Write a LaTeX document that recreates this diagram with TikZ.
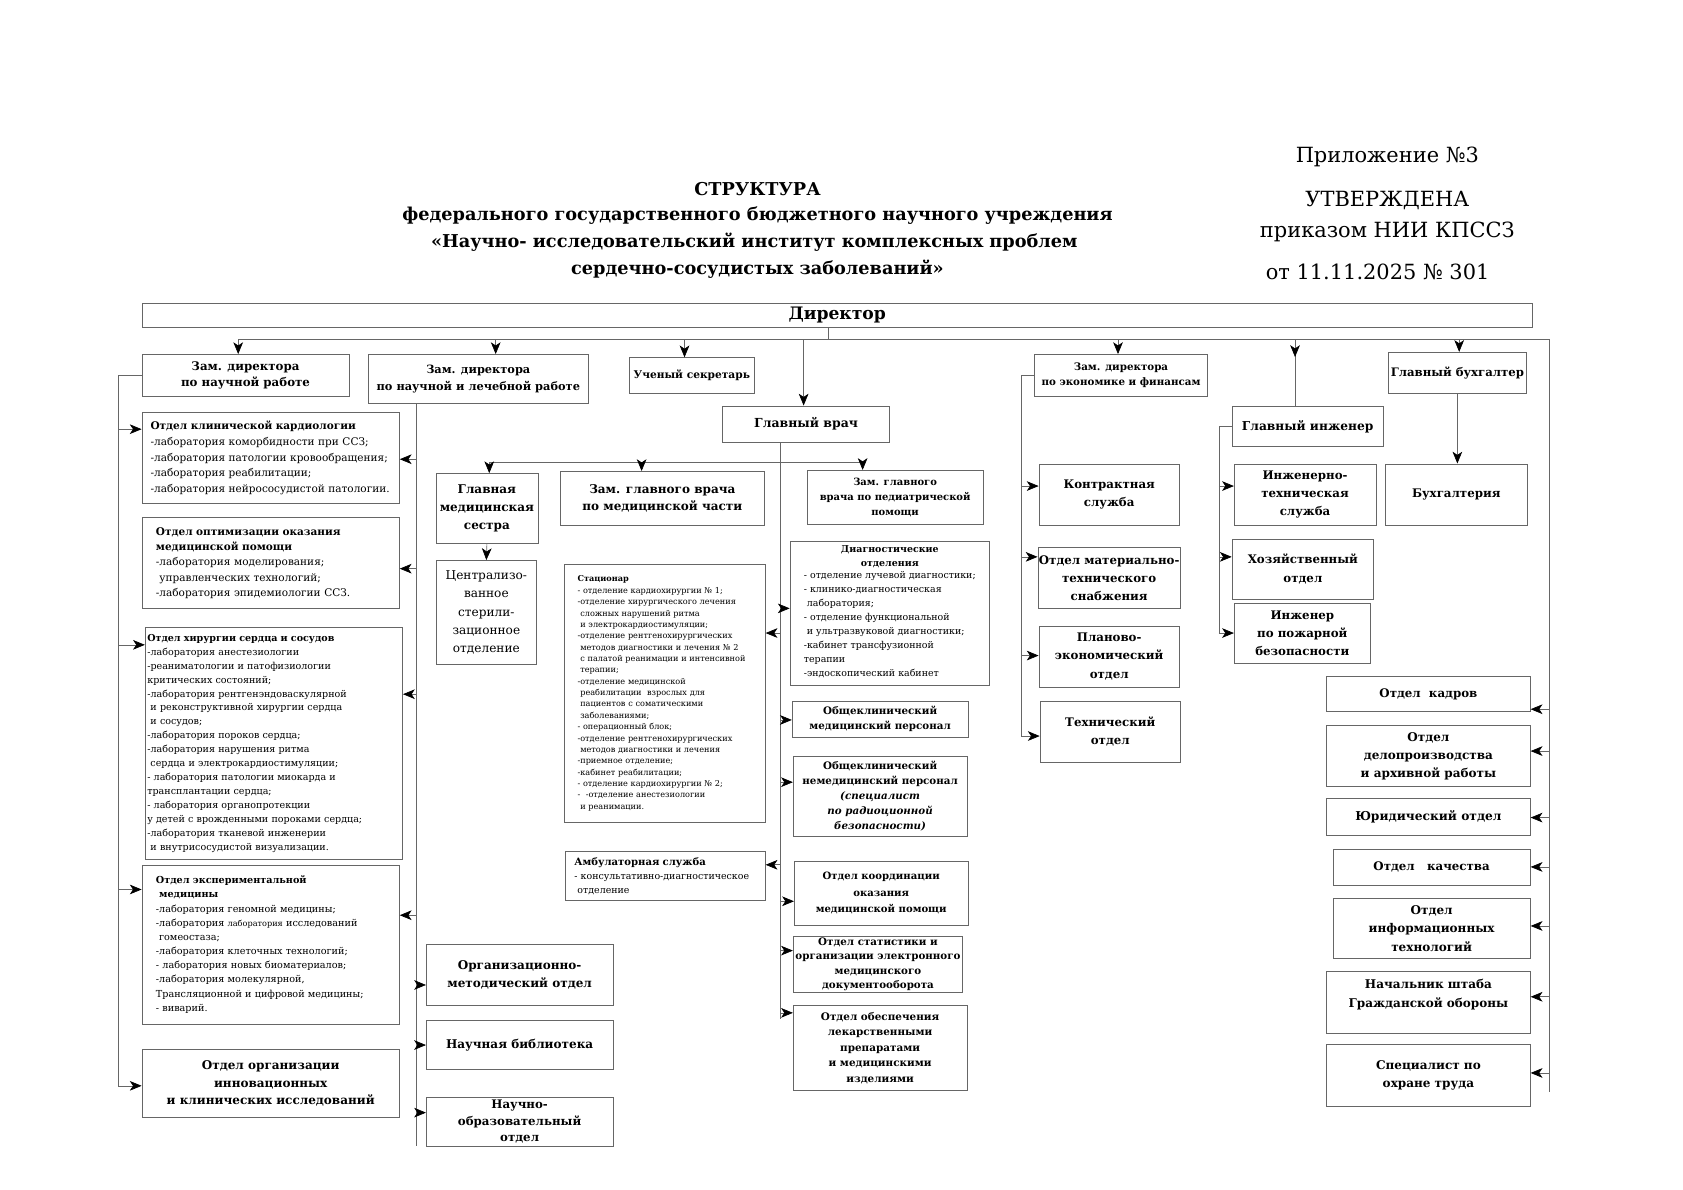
\documentclass[tikz,border=0pt]{standalone}
\usepackage{fontspec}
\setmainfont{DejaVu Serif}
\usetikzlibrary{arrows.meta,decorations.markings}
\newcommand\fs[2]{\fontsize{#1}{#2}\selectfont}
\newcommand\harr[4]{\coordinate (#4) at ([yshift=#3]#2); \draw[arr] (#1 |- #4) -- (#4);}
\begin{document}
\begin{tikzpicture}[x=1pt,y=-1pt,
  box/.style={draw=black!60,line width=0.6pt,inner sep=1pt,align=center,anchor=north west,font=\bfseries\fs{11}{14}},
  lst/.style={box,align=left,inner ysep=2pt},
  ln/.style={draw=black!60,line width=0.6pt},
  arr/.style={ln,-{Stealth[length=11pt,width=9pt,inset=3pt,color=black]}},
  ttl/.style={font=\bfseries\fs{16.5}{20}},
  hdr/.style={font=\fs{19.5}{24}}]
\useasboundingbox (0,0) rectangle (1568.6,1109.1);
% header
\node[hdr] (pr) at (1293,146) {Приложение №3};
\node[hdr] (ut) at (1293,187) {УТВЕРЖДЕНА};
\node[hdr] (pk) at (1293,216) {приказом НИИ КПССЗ};
\node[hdr] (ot) at (1284,253) {от 11.11.2025 № 301};
\node[ttl] (t1) at (706,176) {СТРУКТУРА};
\node[ttl] (t2) at (706,201) {федерального государственного бюджетного научного учреждения};
\node[ttl] (t3) at (703,226) {«Научно- исследовательский институт комплексных проблем};
\node[ttl] (t4) at (706,251) {сердечно-сосудистых заболеваний»};
% top level
\node[box,minimum width=1296pt,minimum height=23pt,font=\bfseries\fs{16}{18}] (dir) at (132,282) {Директор};
\node[box,minimum width=193pt,minimum height=39pt,font=\bfseries\fs{11}{15}] (zn) at (132,330) {Зам. директора\\по научной работе};
\node[box,minimum width=205pt,minimum height=46pt,font=\bfseries\fs{10.6}{15}] (znl) at (343,330) {Зам. директора\\по научной и лечебной работе};
\node[box,minimum width=117pt,minimum height=33pt,font=\bfseries\fs{9.9}{11}] (us) at (586,333) {Ученый секретарь};
\node[box,minimum width=156pt,minimum height=34pt,font=\bfseries\fs{11.6}{14}] (gv) at (673,378) {Главный врач};
\node[box,minimum width=161pt,minimum height=39pt,font=\bfseries\fs{9.6}{14}] (zef) at (964,330) {Зам. директора\\по экономике и финансам};
\node[box,minimum width=141pt,minimum height=38pt,font=\bfseries\fs{11.4}{14}] (gi) at (1148,378) {Главный инженер};
\node[box,minimum width=128pt,minimum height=38pt,font=\bfseries\fs{10.9}{14}] (gb) at (1294,328) {Главный бухгалтер};
% left column
\node[lst,minimum width=240pt,minimum height=85pt,inner xsep=8pt,text width=224pt,font=\fs{9.8}{14.6}] (kk) at (132,384) {\textbf{Отдел клинической кардиологии}\\-лаборатория коморбидности при ССЗ;\\-лаборатория патологии кровообращения;\\-лаборатория реабилитации;\\-лаборатория нейрососудистой патологии.};
\node[lst,minimum width=240pt,minimum height=85pt,inner xsep=13pt,text width=214pt,font=\fs{9.8}{14.2}] (opt) at (132,482) {\textbf{Отдел оптимизации оказания}\\\textbf{медицинской помощи}\\-лаборатория моделирования;\\\ управленческих технологий;\\-лаборатория эпидемиологии ССЗ.};
\node[lst,minimum width=240pt,minimum height=217pt,inner xsep=2pt,text width=236pt,font=\fs{8.9}{13}] (hir) at (135,584) {\textbf{Отдел хирургии сердца и сосудов}\\-лаборатория анестезиологии\\-реаниматологии и патофизиологии\\критических состояний;\\-лаборатория рентгенэндоваскулярной\\\ и реконструктивной хирургии сердца\\\ и сосудов;\\-лаборатория пороков сердца;\\-лаборатория нарушения ритма\\\ сердца и электрокардиостимуляции;\\- лаборатория патологии миокарда и\\трансплантации сердца;\\- лаборатория органопротекции\\у детей с врожденными пороками сердца;\\-лаборатория тканевой инженерии\\\ и внутрисосудистой визуализации.};
\node[lst,minimum width=240pt,minimum height=148pt,inner xsep=13pt,text width=214pt,font=\fs{9}{13.2}] (exp) at (132,806) {\textbf{Отдел экспериментальной}\\\ \textbf{медицины}\\-лаборатория геномной медицины;\\-лаборатория {\fs{7.6}{13.2}лаборатория} исследований\\\ гомеостаза;\\-лаборатория клеточных технологий;\\- лаборатория новых биоматериалов;\\-лаборатория молекулярной,\\Трансляционной и цифровой медицины;\\- виварий.};
\node[box,minimum width=240pt,minimum height=63pt,font=\bfseries\fs{11.2}{16}] (inn) at (132,978) {Отдел организации\\инновационных\\и клинических исследований};
% second column
\node[box,minimum width=95pt,minimum height=65pt,font=\bfseries\fs{11.2}{17}] (gms) at (406,441) {Главная\\медицинская\\сестра};
\node[box,minimum width=94pt,minimum height=97pt,font=\fs{11.3}{17}] (cso) at (406,522) {Централизо-\\ванное\\стерили-\\зационное\\отделение};
\node[box,minimum width=190pt,minimum height=50pt,font=\bfseries\fs{11.2}{16}] (zmc) at (522,439) {Зам. главного врача\\по медицинской части};
\node[lst,minimum width=187pt,minimum height=240pt,inner xsep=12pt,text width=163pt,font=\fs{7.6}{10.6}] (st) at (526,526) {\textbf{Стационар}\\- отделение кардиохирургии № 1;\\-отделение хирургического лечения\\\ сложных нарушений ритма\\\ и электрокардиостимуляции;\\-отделение рентгенохирургических\\\ методов диагностики и лечения № 2\\\ с палатой реанимации и интенсивной\\\ терапии;\\-отделение медицинской\\\ реабилитации\ \ взрослых для\\\ пациентов с соматическими\\\ заболеваниями;\\- операционный блок;\\-отделение рентгенохирургических\\\ методов диагностики и лечения\\-приемное отделение;\\-кабинет реабилитации;\\- отделение кардиохирургии № 2;\\-\ \ -отделение анестезиологии\\\ и реанимации.};
\node[lst,minimum width=186pt,minimum height=46pt,inner xsep=8pt,text width=170pt,font=\fs{8.8}{13}] (amb) at (527,793) {{\fs{9.4}{13}\textbf{Амбулаторная служба}}\\- консультативно-диагностическое\\\ отделение};
\node[box,minimum width=174pt,minimum height=57pt,font=\bfseries\fs{11.2}{17}] (om) at (397,880) {Организационно-\\методический отдел};
\node[box,minimum width=174pt,minimum height=45pt,font=\bfseries\fs{11.2}{14}] (lib) at (397,951) {Научная библиотека};
\node[box,minimum width=174pt,minimum height=46pt,font=\bfseries\fs{11}{15}] (no) at (397,1022) {Научно-\\образовательный\\отдел};
% third column
\node[box,minimum width=164pt,minimum height=50pt,font=\bfseries\fs{9.3}{14}] (zp) at (752,438) {Зам. главного\\врача по педиатрической\\помощи};
\node[box,minimum width=186pt,minimum height=134pt,font=\fs{8.8}{13}] (diag) at (736,504) {\textbf{Диагностические}\\\textbf{отделения}\\\begin{tabular}{@{}l@{}}- отделение лучевой диагностики;\\- клинико-диагностическая\\\ лаборатория;\\- отделение функциональной\\\ и ультразвуковой диагностики;\\-кабинет трансфузионной\\терапии\\-эндоскопический кабинет\end{tabular}};
\node[box,minimum width=164pt,minimum height=34pt,font=\bfseries\fs{9.6}{14}] (mp) at (738,653) {Общеклинический\\медицинский персонал};
\node[box,minimum width=162pt,minimum height=74pt,font=\bfseries\fs{9.6}{14}] (nmp) at (739,705) {Общеклинический\\немедицинский персонал\\\textit{(специалист}\\\textit{по радиоционной}\\\textit{безопасности)}};
\node[box,minimum width=162pt,minimum height=60pt,font=\bfseries\fs{9.4}{15}] (koord) at (740,802) {Отдел координации\\оказания\\медицинской помощи};
\node[box,minimum width=158pt,minimum height=53pt,font=\bfseries\fs{9.6}{13.5}] (stat) at (739,872) {Отдел статистики и\\организации электронного\\медицинского\\документооборота};
\node[box,minimum width=162pt,minimum height=79pt,font=\bfseries\fs{9.7}{14.5}] (obesp) at (739,937) {Отдел обеспечения\\лекарственными\\препаратами\\и медицинскими\\изделиями};
% economics
\node[box,minimum width=131pt,minimum height=57pt,font=\bfseries\fs{11}{17}] (ks) at (968,432) {Контрактная\\служба};
\node[box,minimum width=132pt,minimum height=57pt,font=\bfseries\fs{11}{17}] (mts) at (967,510) {Отдел материально-\\технического\\снабжения};
\node[box,minimum width=131pt,minimum height=57pt,font=\bfseries\fs{11}{17}] (pe) at (968,583) {Планово-\\экономический\\отдел};
\node[box,minimum width=131pt,minimum height=57pt,font=\bfseries\fs{11}{17}] (tech) at (969,653) {Технический\\отдел};
% engineer
\node[box,minimum width=132pt,minimum height=57pt,font=\bfseries\fs{11}{17}] (its) at (1150,432) {Инженерно-\\техническая\\служба};
\node[box,minimum width=132pt,minimum height=56pt,font=\bfseries\fs{11}{17}] (hoz) at (1148,502) {Хозяйственный\\отдел};
\node[box,minimum width=127pt,minimum height=56pt,font=\bfseries\fs{11}{17}] (pozh) at (1150,562) {Инженер\\по пожарной\\безопасности};
\node[box,minimum width=132pt,minimum height=57pt] (buh) at (1291,432) {Бухгалтерия};
% right column
\node[box,minimum width=190pt,minimum height=33pt] (kadr) at (1236,630) {Отдел\ \ кадров};
\node[box,minimum width=190pt,minimum height=57pt,font=\bfseries\fs{11.2}{17}] (delo) at (1236,676) {Отдел\\делопроизводства\\и архивной работы};
\node[box,minimum width=190pt,minimum height=34pt,font=\bfseries\fs{11.4}{14}] (yur) at (1236,744) {Юридический отдел};
\node[box,minimum width=184pt,minimum height=34pt] (kach) at (1242,791) {Отдел\ \ \ качества};
\node[box,minimum width=184pt,minimum height=56pt,font=\bfseries\fs{11.2}{17}] (it) at (1242,837) {Отдел\\информационных\\технологий};
\node[box,minimum width=190pt,minimum height=58pt,font=\bfseries\fs{11.2}{17}] (go) at (1236,905) {Начальник штаба\\Гражданской обороны\\\mbox{}};
\node[box,minimum width=190pt,minimum height=58pt,font=\bfseries\fs{11.2}{17}] (ohr) at (1236,973) {Специалист по\\охране труда};
% ---- connectors
\coordinate (busL) at (222,316);
\coordinate (busR) at (1444,316);
\coordinate (b2) at (462,316);
\coordinate (b3) at (638,316);
\coordinate (b4) at (749,316);
\coordinate (b5) at (1042,316);
\coordinate (b6) at (1207,316);
\coordinate (b7) at (1360,316);
\draw[ln] ([xshift=-8pt]dir.south) -- ([xshift=-8pt]dir.south |- busL);
\draw[ln] (busL) -- (busR);
\draw[arr] (busL) -- (busL |- zn.north);
\draw[arr] (b2) -- (b2 |- znl.north);
\draw[arr] (b3) -- (b3 |- us.north);
\draw[arr] (b4) -- (b4 |- gv.north);
\draw[arr] (b5) -- (b5 |- zef.north);
\draw[ln,postaction={decorate},decoration={markings,mark=at position 0.27 with {\arrow{Stealth[length=11pt,width=9pt,inset=3pt,color=black]}}}] (b6) -- (b6 |- gi.north);
\draw[arr] (b7) -- (b7 |- gb.north);
\draw[arr] (gb.south) -- (gb.south |- buh.north);
% left line
\coordinate (lvb) at (110,1012);
\draw[ln] (zn.west) -- (zn.west -| lvb) -- (lvb);
\harr{lvb}{kk.north west}{-16pt}{a1}
\harr{lvb}{hir.north west}{-17pt}{a2}
\harr{lvb}{exp.north west}{-23pt}{a3}
\harr{lvb}{inn.north west}{-34pt}{a4}
% second line
\coordinate (mvb) at (388,1068);
\draw[ln] (znl.south -| mvb) -- (mvb);
\harr{mvb}{kk.north east}{-44pt}{c1}
\harr{mvb}{opt.north east}{-48pt}{c2}
\harr{mvb}{hir.north east}{-63pt}{c3}
\harr{mvb}{exp.north east}{-47pt}{c4}
\harr{mvb}{om.north west}{-38pt}{c5}
\harr{mvb}{lib.north west}{-23pt}{c6}
\harr{mvb}{no.north west}{-15pt}{c7}
% chief physician
\coordinate (gvb) at (727,950);
\draw[ln] (gv.south -| gvb) -- (gvb);
\coordinate (gbl) at (456,431);
\coordinate (gb2) at (598,431);
\coordinate (gbr) at (804,431);
\draw[ln] (gbl) -- (gbr);
\draw[arr] (gbl) -- (gbl |- gms.north);
\draw[arr] (gb2) -- (gb2 |- zmc.north);
\draw[arr] (gbr) -- (gbr |- zp.north);
\draw[arr] (gms.south) -- (cso.north);
\harr{gvb}{st.north east}{-64pt}{d1}
\harr{gvb}{amb.north east}{-13pt}{d2}
\harr{gvb}{diag.north west}{-63pt}{d3}
\harr{gvb}{mp.north west}{-18pt}{d4}
\harr{gvb}{nmp.north west}{-24pt}{d5}
\harr{gvb}{koord.north west}{-38pt}{d6}
\harr{gvb}{stat.north west}{-14pt}{d7}
\harr{gvb}{obesp.north west}{-7pt}{d8}
% economics
\coordinate (evb) at (952,686);
\draw[ln] (zef.west) -- (zef.west -| evb) -- (evb);
\harr{evb}{ks.north west}{-21pt}{e1}
\harr{evb}{mts.north west}{-9pt}{e2}
\harr{evb}{pe.north west}{-28pt}{e3}
\harr{evb}{tech.north west}{-33pt}{e4}
% engineer
\coordinate (ivb) at (1136,590);
\draw[ln] (gi.west) -- (gi.west -| ivb) -- (ivb);
\harr{ivb}{its.north west}{-21pt}{f1}
\harr{ivb}{hoz.north west}{-17pt}{f2}
\harr{ivb}{pozh.north west}{-28pt}{f3}
% right line
\coordinate (rvb) at (1444,1018);
\draw[ln] (busR) -- (rvb);
\harr{rvb}{kadr.north east}{-31pt}{g1}
\harr{rvb}{delo.north east}{-24pt}{g2}
\harr{rvb}{yur.north east}{-18pt}{g3}
\harr{rvb}{kach.north east}{-17pt}{g4}
\harr{rvb}{it.north east}{-26pt}{g5}
\harr{rvb}{go.north east}{-24pt}{g6}
\harr{rvb}{ohr.north east}{-27pt}{g7}
\end{tikzpicture}
\end{document}
